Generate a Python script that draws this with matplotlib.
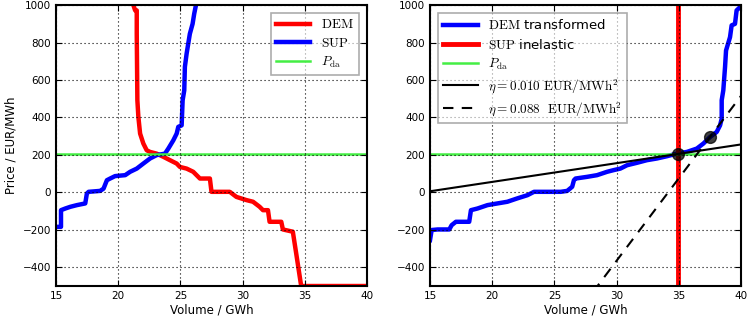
import matplotlib
matplotlib.use('agg')
import matplotlib.pyplot as plt
import numpy as np

plt.rcParams['mathtext.fontset'] = 'cm'
plt.rcParams['font.family'] = 'DejaVu Sans'

# left panel: demand and supply curves (GWh, EUR/MWh)
dem_vol = [21.22, 21.36, 21.49, 21.49, 21.54, 21.62, 21.76, 22.02, 22.29, 22.56,
           23.09, 23.63, 24.16, 24.70, 24.96, 25.50, 26.03, 26.57, 27.37, 27.50,
           28.97, 29.50, 30.30, 30.84, 31.37, 31.64, 32.04, 32.17, 33.11, 33.24,
           34.04, 34.31, 34.71, 40.0]
dem_price = [1000, 972, 972, 847, 492, 403, 314, 261, 225, 216,
             207, 190, 172, 154, 136, 127, 110, 74, 74, 3,
             3, -24, -41, -50, -77, -95, -95, -157, -157, -198,
             -210, -326, -500, -500]

sup_vol = [15.08, 15.40, 15.40, 15.75, 16.15, 16.68, 17.35, 17.48, 17.62, 18.55,
           18.82, 19.09, 19.35, 19.75, 20.56, 20.96, 21.49, 22.02, 22.56, 23.09,
           23.76, 24.03, 24.43, 24.70, 24.83, 25.10, 25.18, 25.31, 25.36, 25.50,
           25.76, 25.98, 26.11, 26.25]
sup_price = [-184, -184, -95, -86, -77, -68, -59, -6, 3, 8,
             20, 65, 74, 87, 92, 110, 127, 154, 181, 199,
             207, 234, 278, 314, 350, 358, 492, 545, 670, 741,
             847, 900, 954, 1000]

p_da = 205

# right panel: transformed demand, inelastic supply
tr_vol = [15.0, 15.13, 15.61, 16.55, 16.74, 17.08, 18.15, 18.29, 18.82, 19.62,
          20.42, 21.22, 22.02, 22.83, 23.36, 25.50, 26.03, 26.43, 26.57, 26.70,
          27.63, 28.43, 29.24, 29.77, 30.30, 30.84, 31.64, 32.44, 33.24, 34.04,
          34.84, 35.65, 36.45, 36.98, 37.52, 38.05, 38.32, 38.45, 38.45, 38.58,
          38.72, 38.80, 39.12, 39.25, 39.52, 39.65, 39.92]
tr_price = [-255, -201, -198, -198, -175, -157, -157, -95, -86, -68,
            -59, -50, -32, -15, 3, 3, 8, 30, 65, 74,
            83, 92, 110, 119, 127, 145, 158, 172, 181, 193,
            207, 216, 234, 261, 296, 323, 358, 394, 492, 545,
            670, 758, 829, 892, 900, 972, 989]

v_inelastic = 34.9
etas = [0.010, 0.088]          # EUR/MWh^2
anchor_vol = [34.9, 37.5]      # GWh, where each line meets the curve
anchor_price = [205, 295]

fig = plt.figure(figsize=(7.48, 3.21), dpi=100)
ax1 = fig.add_axes([0.0749, 0.109, 0.4157, 0.875])
ax2 = fig.add_axes([0.5749, 0.109, 0.4157, 0.875])

ax1.plot(dem_vol, dem_price, color='red', lw=3.2, label=r'$\mathrm{DEM}$')
ax1.plot(sup_vol, sup_price, color='blue', lw=3.2, label=r'$\mathrm{SUP}$')
ax1.axhline(p_da, color='#44ee44', lw=1.8, label=r'$P_{\rm da}$')
ax1.set_ylabel('Price / EUR/MWh', fontsize=8.5)

ax2.plot(tr_vol, tr_price, color='blue', lw=3.2, label=r'$\mathrm{DEM}$ transformed')
ax2.axvline(v_inelastic, color='red', lw=3.5, label=r'$\mathrm{SUP}$ inelastic')
ax2.axhline(p_da, color='#44ee44', lw=1.8, label=r'$P_{\rm da}$')

x = np.array([15, 40])
ax2.plot(x, anchor_price[0] + etas[0] * 1000 * (x - anchor_vol[0]), color='black', lw=1.5,
         label=r'$\eta=0.010\ \mathrm{EUR/MWh}^2$')
ax2.plot(x, anchor_price[1] + etas[1] * 1000 * (x - anchor_vol[1]), color='black', lw=1.5,
         ls=(0, (5, 4)), label=r'$\eta=0.088\ \ \mathrm{EUR/MWh}^2$')
ax2.plot(anchor_vol, anchor_price, 'o', color='black', alpha=0.75, ms=8.5, zorder=5)

for ax in (ax1, ax2):
    ax.set_xlim(15, 40)
    ax.set_ylim(-500, 1000)
    ax.set_xticks([15, 20, 25, 30, 35, 40])
    ax.set_yticks([-400, -200, 0, 200, 400, 600, 800, 1000])
    ax.set_axisbelow(False)
    ax.grid(True, color='black', ls=(0, (1, 2.6)), lw=0.8)
    ax.tick_params(direction='in', top=True, right=True, labelsize=7.5, length=4)
    for s in ax.spines.values():
        s.set_linewidth(1.5)
    ax.set_xlabel('Volume / GWh', fontsize=8.5, labelpad=2)

leg1 = ax1.legend(loc='upper right', fontsize=9.5, fancybox=False, handlelength=2.6,
                  borderaxespad=0.6, labelspacing=0.4, framealpha=0.6)
leg2 = ax2.legend(loc='upper left', fontsize=9.5, fancybox=False, handlelength=2.6,
                  borderaxespad=0.6, labelspacing=0.4, framealpha=0.6)
for leg in (leg1, leg2):
    leg.get_frame().set_edgecolor('#777777')
    leg.get_frame().set_linewidth(1.2)

fig.savefig('out.png', dpi=100)
